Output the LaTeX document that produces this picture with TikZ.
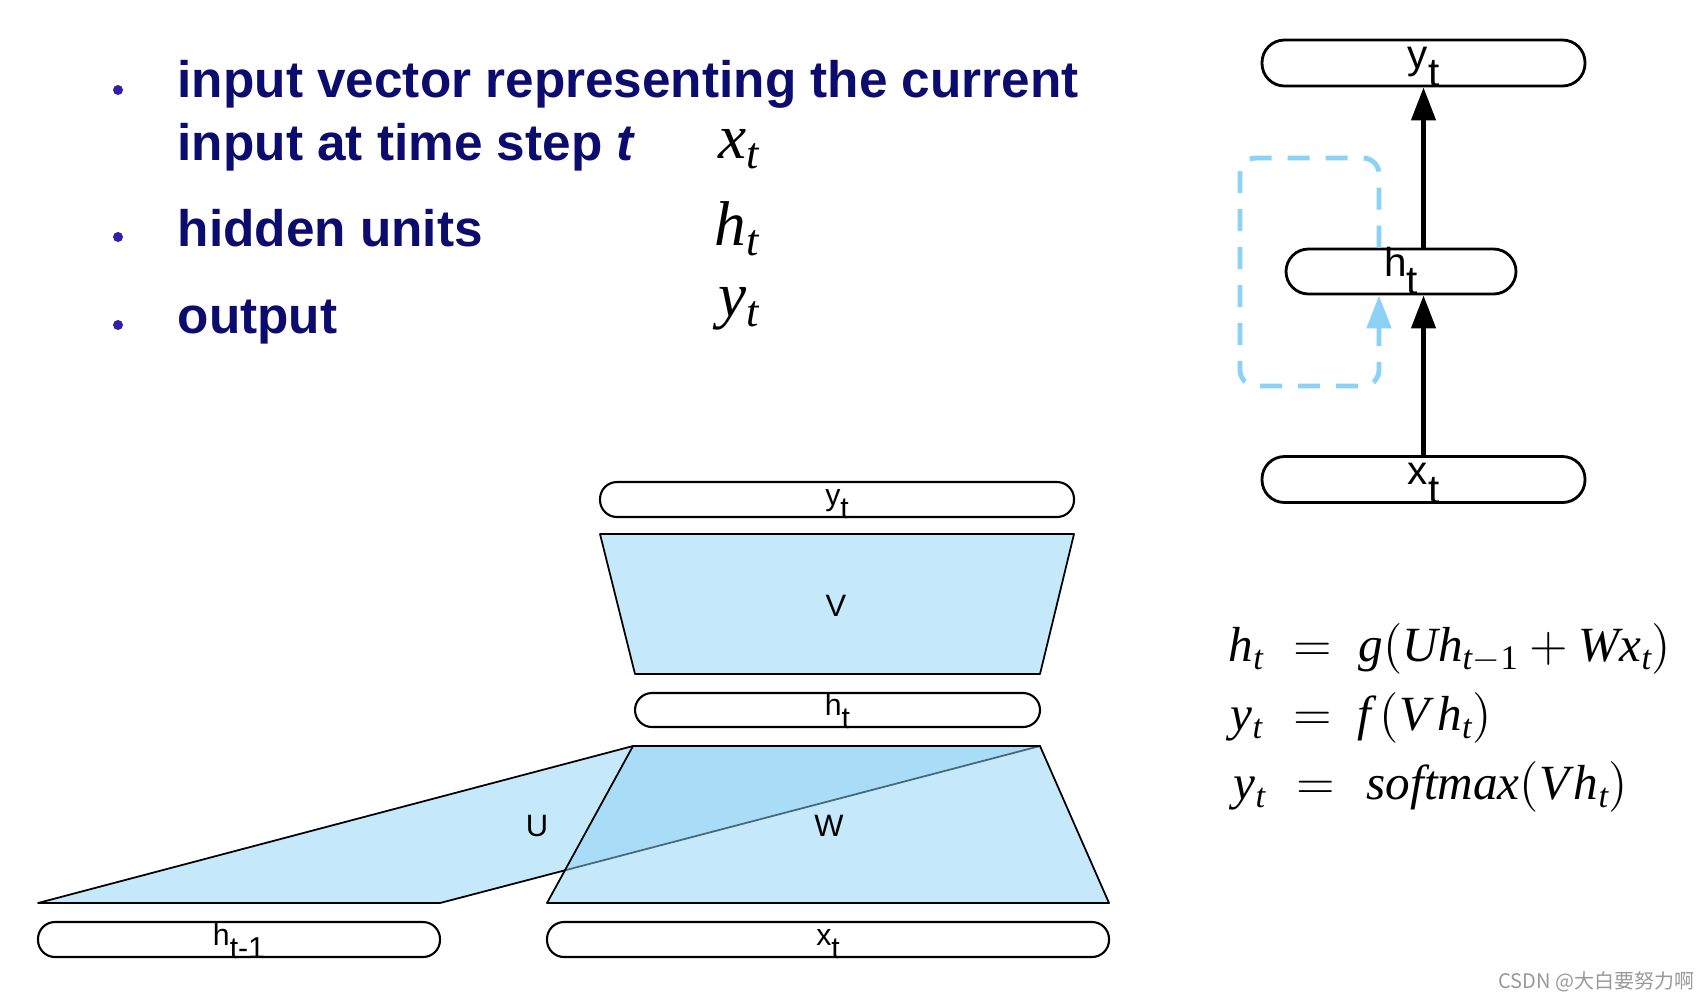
\documentclass[tikz,border=0pt]{standalone}
\usepackage{fontspec}
\setmainfont{Liberation Sans}
\newfontfamily\tms{Liberation Serif}
\newfontfamily\cjk{Noto Sans CJK SC}
\usetikzlibrary{arrows.meta}
\definecolor{navy}{RGB}{12,12,110}
\definecolor{bulletc}{RGB}{50,30,170}
\definecolor{wfill}{RGB}{139,209,245}
\definecolor{loopc}{RGB}{140,210,246}
\newcommand\sbl[2]{#1\raisebox{-0.45em}{#2}}
\newcommand\mv[2]{\textit{#1}\raisebox{-0.17em}{\scalebox{0.7}{#2}}}
\tikzset{
  pillR/.style={draw, line width=0.8pt, rounded corners=2.25mm, inner sep=0pt, fill=white},
  pillB/.style={draw, line width=0.6pt, rounded corners=1.7mm, inner sep=0pt, fill=white},
  labR/.style={font=\fontsize{11.5pt}{14pt}\selectfont, inner sep=0pt, anchor=base},
  labB/.style={font=\fontsize{8.6pt}{10pt}\selectfont, inner sep=0pt, anchor=base},
  wlab/.style={font=\fontsize{8.8pt}{10pt}\selectfont, inner sep=0pt},
  bullettext/.style={font=\bfseries\fontsize{14.6pt}{17pt}\selectfont, text=navy, inner sep=0pt, anchor=base west},
  bmath/.style={font=\tms\fontsize{18pt}{21pt}\selectfont, inner sep=0pt, anchor=base west},
  eq/.style={font=\tms\fontsize{14pt}{17pt}\selectfont, inner sep=0pt, anchor=base west},
  bigarr/.style={line width=1.3pt, -{Triangle[length=3.3mm,width=2.4mm]}},
  loopline/.style={draw=loopc, line width=1.4pt, dash pattern=on 2.2mm off 1.6mm, rounded corners=1.6mm, -{Triangle[length=3.3mm,width=2.4mm]}},
  wshape/.style={fill=wfill, fill opacity=0.5, draw=black, line width=0.5pt, line join=round},
}
\begin{document}
\begin{tikzpicture}[x=0.1mm,y=-0.1mm]
\useasboundingbox (0,0) rectangle (1705,1000);
% ---------- bullets ----------
\fill[bulletc] (118,90) circle (0.5mm);
\fill[bulletc] (118,237) circle (0.5mm);
\fill[bulletc] (118,325) circle (0.5mm);
\node[bullettext] (t1) at (177,97) {input vector representing the current};
\node[bullettext] (t2) at (177,160) {input at time step \textit{t}};
\node[bullettext] (t3) at (177,246) {hidden units};
\node[bullettext] (t4) at (177,333) {output};
\node[bmath] (m1) at (718,158) {\mv{x}{\textit{t}}};
\node[bmath] (m2) at (714,245) {\mv{h}{\textit{t}}};
\node[bmath] (m3) at (718,316) {\mv{y}{\textit{t}}};
% ---------- right diagram ----------
\coordinate (ltr) at (1379,158);
\coordinate (ltl) at (1240,158);
\coordinate (lbl) at (1240,386);
\coordinate (lbr) at (1379,386);
\node[pillR, minimum width=32.3mm, minimum height=4.6mm] (ry) at (1423.5,63) {};
\node[pillR, minimum width=23mm, minimum height=4.5mm] (rh) at (1401,271.5) {};
\node[pillR, minimum width=32.3mm, minimum height=4.6mm] (rx) at (1423.5,479.5) {};
\draw[loopline] (rh.north -| ltr) -- (ltr) -- (ltl) -- (lbl) -- (lbr) -- (rh.south -| lbr);
\draw[bigarr] (rx.north) -- (rx.north |- rh.south);
\draw[bigarr] (rx.north |- rh.north) -- (ry.south);
\node[labR] (ryl) at ([yshift=1.9mm]ry.south) {\sbl{y}{t}};
\node[labR] (rhl) at ([yshift=1.9mm]rh.south) {\sbl{h}{t}};
\node[labR] (rxl) at ([yshift=1.9mm]rx.south) {\sbl{x}{t}};
% ---------- bottom diagram ----------
\node[pillB, minimum width=47.4mm, minimum height=3.5mm] (by) at (837,499.5) {};
\node[pillB, minimum width=40.5mm, minimum height=3.4mm] (bh) at (837.5,710) {};
\node[pillB, minimum width=40.2mm, minimum height=3.5mm] (bhp) at (239,939.5) {};
\node[pillB, minimum width=56.2mm, minimum height=3.5mm] (bx) at (828,939.5) {};
\node[labB] (byl) at ([yshift=1.3mm]by.south) {\sbl{y}{t}};
\node[labB] (bhl) at ([yshift=1.3mm]bh.south) {\sbl{h}{t}};
\node[labB] (bhpl) at ([yshift=1.3mm]bhp.south) {\sbl{h}{t-1}};
\node[labB] (bxl) at ([yshift=1.3mm]bx.south) {\sbl{x}{t}};
\draw[wshape] (600,534) -- (1074,534) -- (1040,674) -- (635,674) -- cycle;
\draw[wshape] (38,903) -- (440,903) -- (1040,746) -- (633,746) -- cycle;
\draw[wshape] (633,746) -- (1040,746) -- (1109,903) -- (547,903) -- cycle;
\node[wlab] (vl) at (836,606) {V};
\node[wlab] (ul) at (537,826) {U};
\node[wlab] (wl) at (829,826) {W};
% ---------- equations ----------
\node[eq] (e1l) at (1228,661) {\mv{h}{\textit{t}}};
\node[eq] (e1e) at (1293,661) {$=$};
\node[eq] (e1r) at (1358,661) {$\textit{g}(\textit{U}\mv{h}{\textit{t}$-$1}+\textit{W}\mv{x}{\textit{t}})$};
\node[eq] (e2l) at (1230,730) {\mv{y}{\textit{t}}};
\node[eq] (e2e) at (1293,730) {$=$};
\node[eq] (e2r) at (1357,730) {$\textit{f}\,(\textit{V}\,\mv{h}{\textit{t}})$};
\node[eq] (e3l) at (1233,799) {\mv{y}{\textit{t}}};
\node[eq] (e3e) at (1296,799) {$=$};
\node[eq] (e3r) at (1366,799) {$\textit{softmax}(\textit{V}\hspace{0.1em}\mv{h}{\textit{t}})$};
% ---------- watermark ----------
\node[anchor=west, inner sep=0pt, text=gray!80, font=\cjk\fontsize{5.7pt}{7pt}\selectfont] (wm) at (1498,982) {CSDN @大白要努力啊};
\end{tikzpicture}
\end{document}
